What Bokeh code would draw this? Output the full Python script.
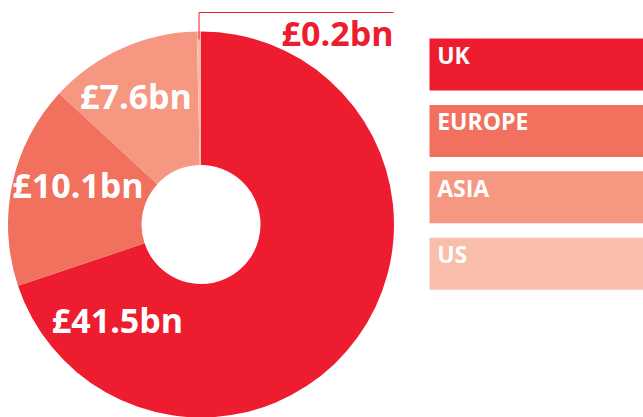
import math
from bokeh.plotting import figure
from bokeh.models import Range1d, ColumnDataSource
from bokeh.core.properties import value
from bokeh.embed import file_html
from bokeh.resources import INLINE

# ---- data ----
regions = ["UK", "EUROPE", "ASIA", "US"]
amounts = [41.5, 10.1, 7.6, 0.2]
amount_labels = ["£41.5bn", "£10.1bn", "£7.6bn", "£0.2bn"]
colors = ["#ED1C2E", "#F1705E", "#F59781", "#F9BEAB"]

# ---- layout (pixels within the figure, y measured upward) ----
W, H = 643, 417
CX, CY = 200.5, 193.0
R_OUT, R_IN = 193.0, 59.5
FONT = "Open Sans"

p = figure(width=W, height=H, output_backend="svg", toolbar_location=None,
           x_range=Range1d(0, W), y_range=Range1d(0, H), min_border=0)
p.axis.visible = False
p.grid.visible = False
p.outline_line_color = None
p.background_fill_color = "white"
p.border_fill_color = "white"

total = sum(amounts)
starts, ends = [], []
a = math.pi / 2
for v in amounts:
    starts.append(a)
    a -= 2 * math.pi * v / total
    ends.append(a)

src = ColumnDataSource(dict(start=starts, end=ends, color=colors))
p.annular_wedge(x=CX, y=CY, inner_radius=R_IN, outer_radius=R_OUT,
                start_angle="start", end_angle="end", direction="clock",
                color="color", source=src, line_color=None)

# value labels (positions are layout constants)
lab_x = [117, 77.5, 135.5, 393]
lab_y = [98, 233, 322, 385]
lab_align = ["center", "center", "center", "right"]
lab_color = ["white", "white", "white", colors[0]]
p.text(x=lab_x, y=lab_y, text=amount_labels, text_align=lab_align,
       text_baseline="alphabetic", text_color=lab_color,
       text_font=value(FONT), text_font_style="bold", text_font_size="34px")

# leader line for the tiny US slice
mid = (starts[3] + ends[3]) / 2
r_pt = R_OUT - 8
x0 = CX + r_pt * math.cos(mid)
y0 = CY + r_pt * math.sin(mid)
p.line(x=[x0, x0, 393], y=[y0, 405, 405], line_color=colors[0], line_width=1)

# legend boxes
LEG_X0, LEG_X1 = 429, 643
LEG_TOP0, LEG_STEP, LEG_H = 38, 66.4, 52
tops = [H - (LEG_TOP0 + i * LEG_STEP) for i in range(len(regions))]
bottoms = [t - LEG_H for t in tops]
p.quad(left=LEG_X0, right=LEG_X1, top=tops, bottom=bottoms,
       color=colors, line_color=None)
p.text(x=[436.7] * len(regions), y=[t - 16.3 for t in tops], text=regions,
       text_align="left", text_baseline="alphabetic", text_color="white",
       text_font=value(FONT), text_font_style="bold", text_font_size="23px")

open("out.html", "w").write(file_html(p, INLINE))
